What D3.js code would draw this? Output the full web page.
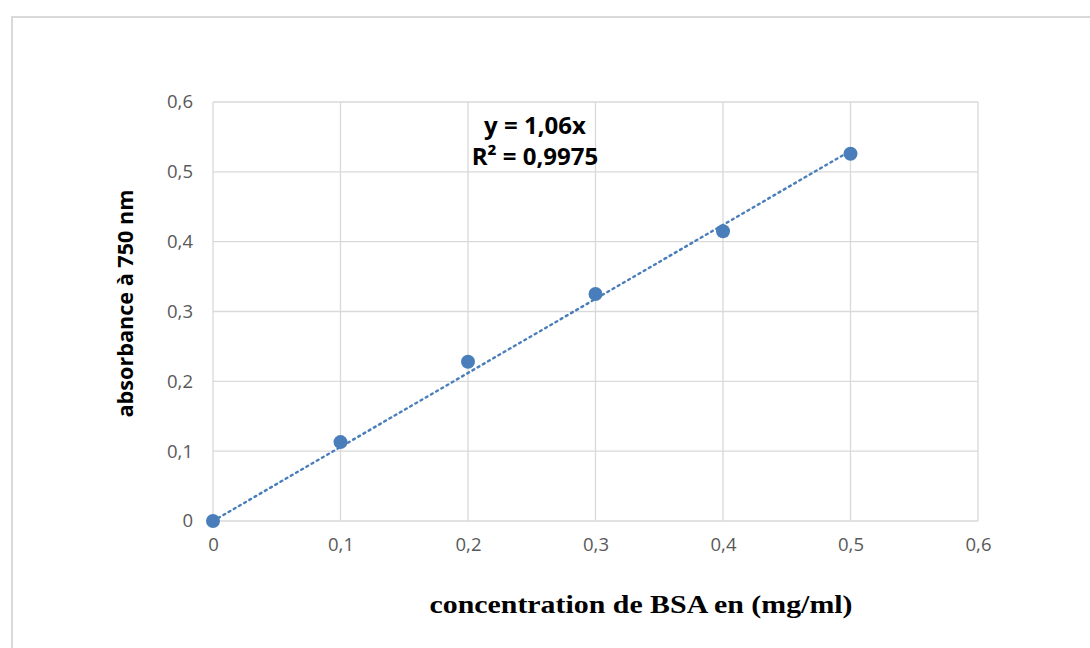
<!DOCTYPE html>
<html>
<head>
<meta charset="utf-8">
<script src="https://cdn.jsdelivr.net/npm/d3@7"></script>
<style>
  body { margin: 0; background: #fff; }
  svg { display: block; }
</style>
</head>
<body>
<svg id="chart"></svg>
<script>
const concentrations = [0, 0.1, 0.2, 0.3, 0.4, 0.5];
const absorbances = [0, 0.113, 0.228, 0.325, 0.415, 0.526];
const slope = 1.06;
const xTicks = [0, 0.1, 0.2, 0.3, 0.4, 0.5, 0.6];
const yTicks = [0, 0.1, 0.2, 0.3, 0.4, 0.5, 0.6];

const W = 1090, H = 648;
const margin = {top: 102, right: 112, bottom: 127, left: 213};
const width = W - margin.left - margin.right;
const height = H - margin.top - margin.bottom;

const svg = d3.select("#chart").attr("width", W).attr("height", H);

// outer chart frame
svg.append("rect")
    .attr("x", 12).attr("y", 17)
    .attr("width", W + 10).attr("height", H)
    .attr("fill", "none")
    .attr("stroke", "#d9d9d9")
    .attr("stroke-width", 2);

const g = svg.append("g").attr("transform", `translate(${margin.left},${margin.top})`);

const x = d3.scaleLinear().domain([0, 0.6]).range([0, width]);
const y = d3.scaleLinear().domain([0, 0.6]).range([height, 0]);
const fmt = d => d3.format(".1~f")(d).replace(".", ",");

// grid
g.selectAll(".vgrid").data(xTicks).enter().append("line")
    .attr("x1", d => x(d)).attr("x2", d => x(d))
    .attr("y1", 0).attr("y2", height)
    .attr("stroke", "#d9d9d9").attr("stroke-width", 1.3);
g.selectAll(".hgrid").data(yTicks).enter().append("line")
    .attr("x1", 0).attr("x2", width)
    .attr("y1", d => y(d)).attr("y2", d => y(d))
    .attr("stroke", "#d9d9d9").attr("stroke-width", 1.3);

// axes labels (no domain / ticks lines)
const xAxis = g.append("g")
    .attr("transform", `translate(0,${height})`)
    .call(d3.axisBottom(x).tickValues(xTicks).tickFormat(fmt).tickSize(0).tickPadding(17));
const yAxis = g.append("g")
    .call(d3.axisLeft(y).tickValues(yTicks).tickFormat(fmt).tickSize(0).tickPadding(20));
[xAxis, yAxis].forEach(a => {
    a.select(".domain").remove();
    a.selectAll("text")
        .attr("fill", "#595959")
        .style("font-family", "'Open Sans', sans-serif")
        .style("font-size", "18.5px");
});

// trendline
g.append("line")
    .attr("x1", x(0)).attr("y1", y(0))
    .attr("x2", x(0.5)).attr("y2", y(slope * 0.5))
    .attr("stroke", "#4a7ebb")
    .attr("stroke-width", 2.4)
    .attr("stroke-dasharray", "2,4")
    .attr("stroke-linecap", "round");

// points
g.selectAll(".pt").data(concentrations).enter().append("circle")
    .attr("cx", d => x(d))
    .attr("cy", (d, i) => y(absorbances[i]))
    .attr("r", 7)
    .attr("fill", "#4a7ebb");

// equation
const eq = g.append("text")
    .attr("text-anchor", "middle")
    .style("font-family", "'Open Sans', sans-serif")
    .style("font-weight", "bold")
    .style("font-size", "24px")
    .attr("fill", "#000");
eq.append("tspan").attr("x", x(0.2525)).attr("y", 32).text("y = 1,06x");
eq.append("tspan").attr("x", x(0.2525)).attr("y", 63).text("R² = 0,9975");

// axis titles
svg.append("text")
    .attr("transform", `translate(133,${margin.top + height / 2 - 8}) rotate(-90)`)
    .attr("text-anchor", "middle")
    .attr("textLength", 228)
    .attr("lengthAdjust", "spacingAndGlyphs")
    .style("font-family", "'Open Sans', sans-serif")
    .style("font-weight", "bold")
    .style("font-size", "22px")
    .attr("fill", "#000")
    .text("absorbance à 750 nm");

svg.append("text")
    .attr("x", 641).attr("y", 613)
    .attr("text-anchor", "middle")
    .attr("textLength", 423)
    .attr("lengthAdjust", "spacingAndGlyphs")
    .style("font-family", "'Liberation Serif', serif")
    .style("font-weight", "bold")
    .style("font-size", "25px")
    .attr("fill", "#000")
    .text("concentration  de BSA en (mg/ml)");
</script>
</body>
</html>
